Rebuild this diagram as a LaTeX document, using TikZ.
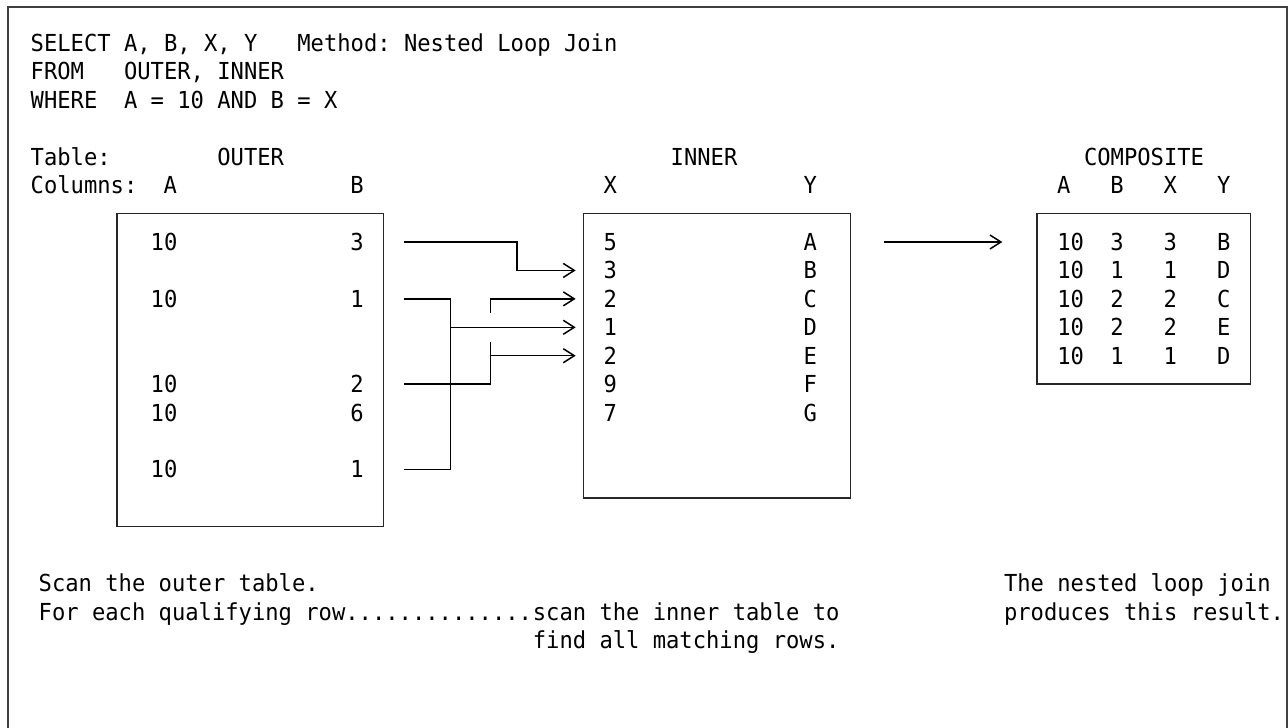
\documentclass[tikz,border=0pt]{standalone}
\usepackage{fontspec}
\setmonofont[FakeStretch=0.9464]{DejaVu Sans Mono}
\usetikzlibrary{arrows.meta}
\tikzset{
  >={Straight Barb[length=5.5pt,width=7pt]},
}
\tikzstyle{cell}=[font=\ttfamily\fontsize{11.7}{14}\selectfont,inner sep=0pt,anchor=base]
\tikzstyle{txt}=[cell,anchor=base west]
\tikzstyle{tbl}=[draw=black!85,line width=0.8pt]
\tikzstyle{wire}=[line width=0.75pt]
\tikzstyle{frame}=[draw=black!75,line width=0.8pt]

\begin{document}
% one unit = one character cell, (0,0) = first cell of the SELECT line
\begin{tikzpicture}[x=6.6667pt,y=-14.215pt]
  \useasboundingbox (-2.775,-1.5125) rectangle (93.825,24.06);
  \draw[frame] (-2.175,26) |- (93.75,-1.256) -- (93.75,26);

  % query
  \node[txt] (sel) at (-0.5,0.3) {SELECT A, B, X, Y};
  \node[txt] (meth) at (19.5,0.3) {Method: Nested Loop Join};
  \node[txt] (from) at (-0.5,1.3) {FROM};
  \node[txt] (tabs) at (6.5,1.3) {OUTER, INNER};
  \node[txt] (where) at (-0.5,2.3) {WHERE};
  \node[txt] (pred) at (6.5,2.3) {A = 10 AND B = X};

  % headings
  \node[txt] (tab) at (-0.5,4.3) {Table:};
  \node[txt] (hout) at (13.5,4.3) {OUTER};
  \node[txt] (hinn) at (47.5,4.3) {INNER};
  \node[txt] (hcomp) at (78.5,4.3) {COMPOSITE};
  \node[txt] (cols) at (-0.5,5.3) {Columns:};
  \foreach \c/\l [count=\i] in {10/A,24/B,43/X,58/Y,77/A,81/B,85/X,89/Y}
    \node[cell] (h\i) at (\c,5.3) {\l};

  % tables
  \draw[tbl] (6,6) rectangle (26,17);
  \draw[tbl] (41,6) rectangle (61,16);
  \draw[tbl] (75,6) rectangle (91,12);

  \foreach \r/\b [count=\i] in {7/3,9/1,12/2,13/6,15/1}{
    \node[txt] (oa\i) at (8.5,\r+0.3) {10};
    \node[cell] (ob\i) at (24,\r+0.3) {\b};
  }
  \foreach \x/\y [count=\i] in {5/A,3/B,2/C,1/D,2/E,9/F,7/G}{
    \node[cell] (ix\i) at (43,6.3+\i) {\x};
    \node[cell] (iy\i) at (58,6.3+\i) {\y};
  }
  \foreach \b/\x/\y [count=\i] in {3/3/B,1/1/D,2/2/C,2/2/E,1/1/D}{
    \node[txt] (ca\i) at (76.5,6.3+\i) {10};
    \node[cell] (cb\i) at (81,6.3+\i) {\b};
    \node[cell] (cx\i) at (85,6.3+\i) {\x};
    \node[cell] (cy\i) at (89,6.3+\i) {\y};
  }

  % wires from outer rows to inner rows
  \coordinate (s1) at (27.5,7);
  \coordinate (s2) at (27.5,9);
  \coordinate (s3) at (27.5,12);
  \coordinate (s5) at (27.5,15);
  \foreach \i in {2,...,5}
    \coordinate (t\i) at (40.4,6+\i);
  \draw[wire,->] (s1) -| (36,8) -- (t2);
  \draw[wire] (s2) -| (31,15) -- (s5);
  \draw[wire,->] (31,10) -- (t4);
  \draw[wire] (s3) -| (34,10.5);
  \draw[wire,->] (34,11) -- (t5);
  \draw[wire,->] (34,9.5) |- (t3);

  % result arrow
  \coordinate (r1) at (63.5,7);
  \coordinate (r2) at (72.4,7);
  \draw[wire,->] (r1) -- (r2);

  % captions
  \node[txt] (scan) at (0.1,19.3) {Scan the outer table.};
  \node[txt] (each) at (0.1,20.3) {For each qualifying row..............};
  \node[txt] (inscan) at (each.base east) {scan the inner table to};
  \node[txt] (find) at (inscan.base west |- 0,21.3) {find all matching rows.};
  \node[txt] (nlj) at (72.5,19.3) {The nested loop join};
  \node[txt] (res) at (72.5,20.3) {produces this result.};
\end{tikzpicture}
\end{document}
